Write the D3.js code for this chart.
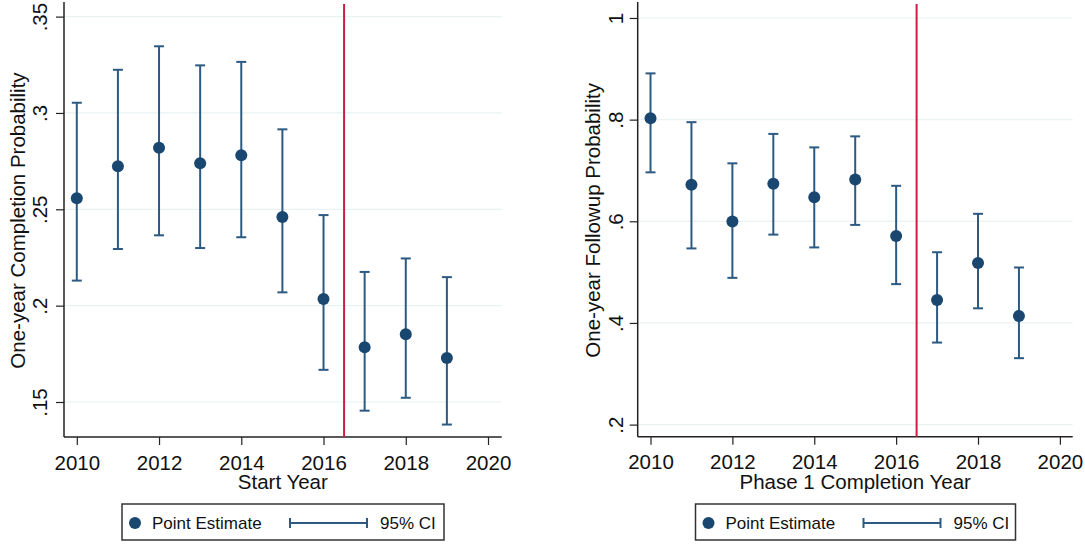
<!DOCTYPE html>
<html>
<head>
<meta charset="utf-8">
<script src="https://cdn.jsdelivr.net/npm/d3@7"></script>
<style>
  body { margin: 0; background: #fff; }
  svg { display: block; font-family: "Liberation Sans", Arial, sans-serif; }
</style>
</head>
<body>
<div class="svg-container"></div>
<script>
// data
const years = [2010, 2011, 2012, 2013, 2014, 2015, 2016, 2017, 2018, 2019];

const startEst = [0.2557, 0.2724, 0.2820, 0.2739, 0.2780, 0.2460, 0.2035, 0.1784, 0.1852, 0.1728];
const startLo  = [0.2130, 0.2294, 0.2365, 0.2299, 0.2355, 0.2069, 0.1667, 0.1455, 0.1522, 0.1383];
const startHi  = [0.3053, 0.3224, 0.3346, 0.3247, 0.3265, 0.2915, 0.2470, 0.2175, 0.2245, 0.2148];

const followEst = [0.8026, 0.6718, 0.5997, 0.6739, 0.6473, 0.6820, 0.5711, 0.4451, 0.5180, 0.4138];
const followLo  = [0.6963, 0.5466, 0.4887, 0.5738, 0.5486, 0.5929, 0.4764, 0.3614, 0.4288, 0.3307];
const followHi  = [0.8910, 0.7950, 0.7140, 0.7719, 0.7454, 0.7671, 0.6698, 0.5391, 0.6147, 0.5091];

const xTicks = [2010, 2012, 2014, 2016, 2018, 2020];
const startTicks = [0.15, 0.2, 0.25, 0.3, 0.35];
const startTickLabels = ['.15', '.2', '.25', '.3', '.35'];
const followTicks = [0.2, 0.4, 0.6, 0.8, 1];
const followTickLabels = ['.2', '.4', '.6', '.8', '1'];

const cutoff = 2016.5;
const legendLabels = ['Point Estimate', '95% CI'];

const navy = '#1a476f';
const barColor = '#2c5a83';
const red = '#d01c45';
const grid = '#eaf2f3';
const axisColor = '#222';
const fontSize = 20.5;

const svg = d3.select('.svg-container')
    .append('svg')
    .attr('width', 1085)
    .attr('height', 545);

function drawPanel(p) {
    const x = d3.scaleLinear().domain(p.xDomain).range([p.left, p.right]);
    const y = d3.scaleLinear().domain(p.yDomain).range([p.bottom, p.top]);
    const g = svg.append('g');

    // gridlines
    g.selectAll('.grid')
        .data(p.yTicks)
        .join('line')
        .attr('x1', p.left).attr('x2', p.right)
        .attr('y1', d => y(d)).attr('y2', d => y(d))
        .attr('stroke', grid)
        .attr('stroke-width', 1.2);

    // y axis
    const yAxis = d3.axisLeft(y)
        .tickValues(p.yTicks)
        .tickSize(8)
        .tickFormat((d, i) => p.yTickLabels[i]);
    const ya = g.append('g')
        .attr('transform', `translate(${p.left},0)`)
        .call(yAxis);
    ya.select('.domain').remove();
    ya.selectAll('.tick line').attr('stroke', axisColor).attr('stroke-width', 1.2);
    ya.selectAll('.tick text')
        .attr('x', null).attr('dy', null)
        .attr('transform', d => `translate(${p.yLabelX},0) rotate(-90)`)
        .attr('text-anchor', 'middle')
        .attr('fill', '#111')
        .attr('font-size', fontSize);

    // x axis
    const xAxis = d3.axisBottom(x)
        .tickValues(xTicks)
        .tickSize(8)
        .tickFormat(d3.format('d'));
    const xa = g.append('g')
        .attr('transform', `translate(0,${p.bottom})`)
        .call(xAxis);
    xa.select('.domain').remove();
    xa.selectAll('.tick line').attr('stroke', axisColor).attr('stroke-width', 1.2);
    xa.selectAll('.tick text')
        .attr('y', 32.5).attr('dy', null)
        .attr('fill', '#111')
        .attr('font-size', fontSize);

    // axis lines
    g.append('line')
        .attr('x1', p.left).attr('x2', p.left)
        .attr('y1', p.top - 2).attr('y2', p.bottom)
        .attr('stroke', axisColor).attr('stroke-width', 1.5);
    g.append('line')
        .attr('x1', p.left).attr('x2', p.right)
        .attr('y1', p.bottom).attr('y2', p.bottom)
        .attr('stroke', axisColor).attr('stroke-width', 1.5);

    // cutoff line
    g.append('line')
        .attr('x1', x(cutoff)).attr('x2', x(cutoff))
        .attr('y1', p.top).attr('y2', p.bottom)
        .attr('stroke', red).attr('stroke-width', 2);

    // confidence intervals
    const cap = 5;
    const ci = g.selectAll('.ci')
        .data(years)
        .join('g')
        .attr('class', 'ci')
        .attr('stroke', barColor)
        .attr('stroke-width', 2);
    ci.append('line')
        .attr('x1', d => x(d)).attr('x2', d => x(d))
        .attr('y1', (d, i) => y(p.lo[i])).attr('y2', (d, i) => y(p.hi[i]));
    ci.append('line')
        .attr('x1', d => x(d) - cap).attr('x2', d => x(d) + cap)
        .attr('y1', (d, i) => y(p.lo[i])).attr('y2', (d, i) => y(p.lo[i]));
    ci.append('line')
        .attr('x1', d => x(d) - cap).attr('x2', d => x(d) + cap)
        .attr('y1', (d, i) => y(p.hi[i])).attr('y2', (d, i) => y(p.hi[i]));

    // point estimates
    g.selectAll('.pt')
        .data(years)
        .join('circle')
        .attr('class', 'pt')
        .attr('cx', d => x(d))
        .attr('cy', (d, i) => y(p.est[i]))
        .attr('r', 6)
        .attr('fill', navy);

    // axis titles
    g.append('text')
        .attr('x', (p.left + p.right) / 2)
        .attr('y', 488.5)
        .attr('text-anchor', 'middle')
        .attr('font-size', fontSize)
        .attr('fill', '#111')
        .text(p.xTitle);
    g.append('text')
        .attr('transform', `translate(${p.yTitleX},${(p.top + p.bottom) / 2}) rotate(-90)`)
        .attr('text-anchor', 'middle')
        .attr('font-size', fontSize)
        .attr('fill', '#111')
        .text(p.yTitle);

    // legend
    const lg = g.append('g').attr('transform', `translate(${p.legendX},504)`);
    lg.append('rect')
        .attr('width', p.legendW).attr('height', 36)
        .attr('fill', '#fff')
        .attr('stroke', '#333').attr('stroke-width', 1.5);
    lg.append('circle')
        .attr('cx', 13).attr('cy', 19).attr('r', 6).attr('fill', navy);
    lg.append('text')
        .attr('x', 30).attr('y', 25)
        .attr('font-size', 17).attr('fill', '#111')
        .text(legendLabels[0]);
    lg.append('line')
        .attr('x1', 168).attr('x2', 245).attr('y1', 19).attr('y2', 19)
        .attr('stroke', barColor).attr('stroke-width', 2);
    [168, 245].forEach(cx => {
        lg.append('line')
            .attr('x1', cx).attr('x2', cx).attr('y1', 14).attr('y2', 24)
            .attr('stroke', barColor).attr('stroke-width', 2);
    });
    lg.append('text')
        .attr('x', 258).attr('y', 25)
        .attr('font-size', 17).attr('fill', '#111')
        .text(legendLabels[1]);
}

drawPanel({
    left: 64, right: 501.7, top: 4, bottom: 437,
    xDomain: [2009.689, 2020.333],
    yDomain: [0.13184, 0.35654],
    yTicks: startTicks, yTickLabels: startTickLabels,
    yLabelX: -17, yTitleX: 25,
    est: startEst, lo: startLo, hi: startHi,
    xTitle: 'Start Year',
    yTitle: 'One-year Completion Probability',
    legendX: 122, legendW: 322
});

drawPanel({
    left: 637.7, right: 1072.7, top: 4, bottom: 436.7,
    xDomain: [2009.687, 2020.313],
    yDomain: [0.1762, 1.0275],
    yTicks: followTicks, yTickLabels: followTickLabels,
    yLabelX: -15, yTitleX: 600,
    est: followEst, lo: followLo, hi: followHi,
    xTitle: 'Phase 1 Completion Year',
    yTitle: 'One-year Followup Probability',
    legendX: 695.5, legendW: 320
});
</script>
</body>
</html>
